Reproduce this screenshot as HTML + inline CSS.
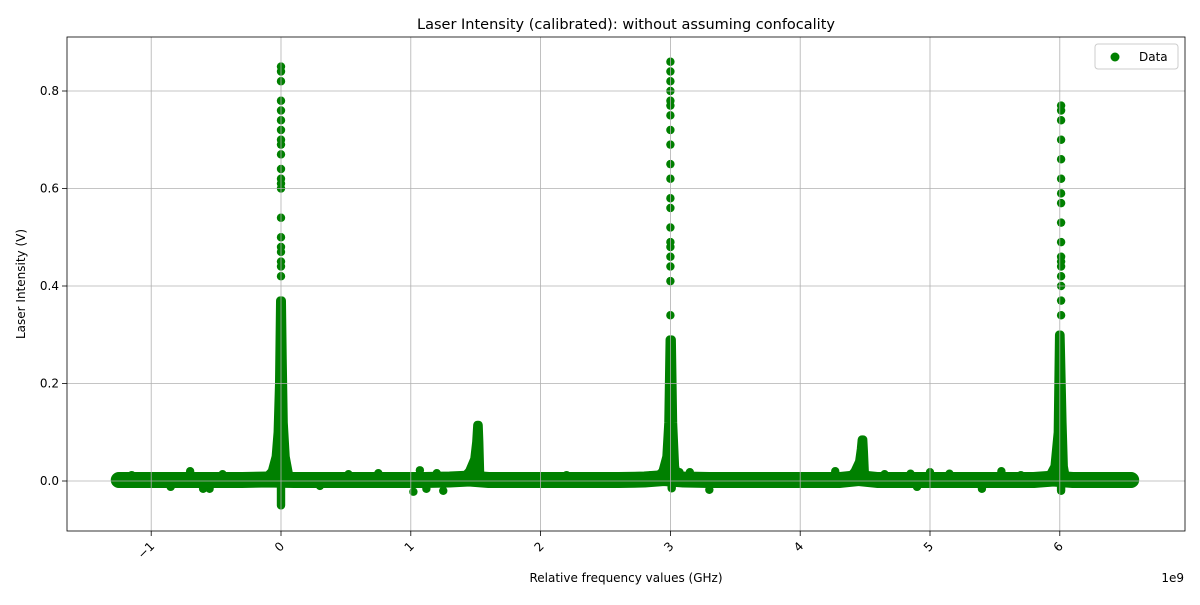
<!DOCTYPE html>
<html><head><meta charset="utf-8"><style>
body{margin:0;background:#fff;font-family:"Liberation Sans","DejaVu Sans",sans-serif}
svg text{font-family:"DejaVu Sans","Liberation Sans",sans-serif}
</style></head><body>
<svg id="c" width="1200" height="600" xmlns="http://www.w3.org/2000/svg"></svg>
<script>
const xTicks=[-1,0,1,2,3,4,5,6];
const yTicks=[0.0,0.2,0.4,0.6,0.8];
const baseX=[-1.25,-1.1,-0.9,-0.7,-0.5,-0.3,-0.1,0.1,0.3,0.5,0.7,0.9,1.1,1.3,1.45,1.6,1.8,2.0,2.2,2.4,2.6,2.8,2.95,3.1,3.3,3.5,3.7,3.9,4.1,4.3,4.45,4.6,4.8,5.0,5.2,5.4,5.6,5.8,5.95,6.1,6.3,6.5,6.55];
const baseY=[0.002,0.002,0.002,0.002,0.002,0.002,0.003,0.002,0.002,0.002,0.002,0.002,0.002,0.003,0.005,0.002,0.002,0.002,0.002,0.002,0.002,0.003,0.006,0.003,0.002,0.002,0.002,0.002,0.002,0.002,0.006,0.002,0.002,0.002,0.002,0.002,0.002,0.002,0.005,0.002,0.002,0.002,0.002];
const outX=[-1.15,-0.85,-0.7,-0.6,-0.55,-0.45,0.3,0.52,0.75,1.02,1.07,1.12,1.2,1.25,2.2,2.85,3.07,3.15,3.3,4.27,4.65,4.85,4.9,5.0,5.15,5.4,5.55,5.7];
const outY=[0.012,-0.012,0.02,-0.016,-0.016,0.014,-0.01,0.014,0.016,-0.022,0.022,-0.016,0.016,-0.02,0.012,0.012,0.018,0.018,-0.018,0.02,0.014,0.015,-0.012,0.018,0.015,-0.016,0.02,0.012];
const peak0X=[-0.14,-0.07,-0.04,-0.025,-0.014,-0.006,0.006,0.012,0.02,0.035,0.07];
const peak0Y=[0.0,0.02,0.05,0.1,0.2,0.37,0.37,0.25,0.12,0.05,0.0];
const bump1X=[1.38,1.45,1.49,1.505,1.513,1.522,1.527,1.535];
const bump1Y=[0.0,0.02,0.045,0.08,0.115,0.115,0.08,0.0];
const peak3X=[2.86,2.94,2.97,2.985,2.995,3.01,3.02,3.035,3.06];
const peak3Y=[0.0,0.02,0.05,0.12,0.29,0.29,0.12,0.03,0.0];
const bump2X=[4.36,4.42,4.455,4.468,4.475,4.485,4.49,4.5];
const bump2Y=[0.0,0.02,0.04,0.065,0.085,0.085,0.06,0.0];
const peak6X=[5.9,5.96,5.985,5.995,6.005,6.02,6.03,6.05];
const peak6Y=[0.0,0.03,0.1,0.3,0.3,0.12,0.03,0.0];
const dipX=[0.0,3.01,6.01];
const dipY=[-0.05,-0.015,-0.02];
const dotX=[0,0,0,0,0,0,0,0,0,0,0,0,0,0,0,0,0,0,0,0,0, 3,3,3,3,3,3,3,3,3,3,3,3,3,3,3,3,3,3,3,3, 6.01,6.01,6.01,6.01,6.01,6.01,6.01,6.01,6.01,6.01,6.01,6.01,6.01,6.01,6.01,6.01,6.01];
const dotY=[0.85,0.84,0.82,0.78,0.76,0.74,0.72,0.70,0.69,0.67,0.64,0.62,0.61,0.60,0.54,0.5,0.48,0.47,0.45,0.44,0.42, 0.86,0.84,0.82,0.8,0.78,0.77,0.75,0.72,0.69,0.65,0.62,0.58,0.56,0.52,0.49,0.48,0.46,0.44,0.41,0.34, 0.77,0.76,0.74,0.70,0.66,0.62,0.59,0.57,0.53,0.49,0.46,0.45,0.44,0.42,0.4,0.37,0.34];
const L=67,R=1185,T=37,B=531;
const X=v=>281+v*129.8, Y=v=>481-v*487.5;
const s=document.getElementById('c');const NS='http://www.w3.org/2000/svg';
function el(t,a,p){const e=document.createElementNS(NS,t);for(const k in a)e.setAttribute(k,a[k]);(p||s).appendChild(e);return e;}
const G='#008000';
const marks=el('g',{});


let pts=baseX.map((x,i)=>X(x)+','+Y(baseY[i])).join(' ');
const band=el('polyline',{points:pts,fill:'none',stroke:G,'stroke-width':16,'stroke-linecap':'round','stroke-linejoin':'round'},marks);


outX.forEach((x,i)=>{const c=el('circle',{cx:X(x),cy:Y(outY[i]),r:4.2,fill:G},marks);

});
[[peak0X,peak0Y],[bump1X,bump1Y],[peak3X,peak3Y],[bump2X,bump2Y],[peak6X,peak6Y]].forEach(([xs,ys])=>{
const p=el('polygon',{points:xs.map((x,i)=>X(x)+','+Y(ys[i])).join(' '),fill:G,stroke:G,'stroke-width':8.4,'stroke-linejoin':'round'},marks);

});
dipX.forEach((x,i)=>{const l=el('line',{x1:X(x),x2:X(x),y1:Y(0),y2:Y(dipY[i]),stroke:G,'stroke-width':8.4,'stroke-linecap':'round'},marks);

});
dotX.forEach((x,i)=>{const c=el('circle',{cx:X(x),cy:Y(dotY[i]),r:4.2,fill:G},marks);

});
xTicks.forEach(t=>{const g=el('line',{x1:X(t),x2:X(t),y1:T,y2:B,stroke:'#b0b0b0','stroke-width':0.8});


el('line',{x1:X(t),x2:X(t),y1:B,y2:B+5,stroke:'#000','stroke-width':0.8});
const tx=el('text',{x:X(t)+4,y:B+16,'font-size':12,'text-anchor':'end',transform:`rotate(-45 ${X(t)+4} ${B+16})`});
tx.textContent=(t<0?'\u2212'+(-t):t);

});
yTicks.forEach(t=>{const g=el('line',{x1:L,x2:R,y1:Y(t),y2:Y(t),stroke:'#b0b0b0','stroke-width':0.8});


el('line',{x1:L-5,x2:L,y1:Y(t),y2:Y(t),stroke:'#000','stroke-width':0.8});
const tx=el('text',{x:L-8,y:Y(t)+4,'font-size':12,'text-anchor':'end'});
tx.textContent=t.toFixed(1);

});
const fr=el('rect',{x:L,y:T,width:R-L,height:B-T,fill:'none',stroke:'#000','stroke-width':0.8});


const tt=el('text',{x:626,y:29,'font-size':14.5,'text-anchor':'middle'});tt.textContent='Laser Intensity (calibrated): without assuming confocality';


const xl=el('text',{x:626,y:582,'font-size':12,'text-anchor':'middle'});xl.textContent='Relative frequency values (GHz)';


const off=el('text',{x:1184,y:582,'font-size':12,'text-anchor':'end'});off.textContent='1e9';


const yl=el('text',{x:25,y:284,'font-size':12,'text-anchor':'middle',transform:'rotate(-90 25 284)'});yl.textContent='Laser Intensity (V)';


const lg=el('g',{});


el('rect',{x:1095,y:44,width:83,height:25,rx:3,fill:'#fff','fill-opacity':0.8,stroke:'#ccc'},lg);
el('circle',{cx:1115,cy:57,r:4.5,fill:G},lg);
const lt=el('text',{x:1139,y:61,'font-size':12},lg);lt.textContent='Data';


</script>
</body></html>
